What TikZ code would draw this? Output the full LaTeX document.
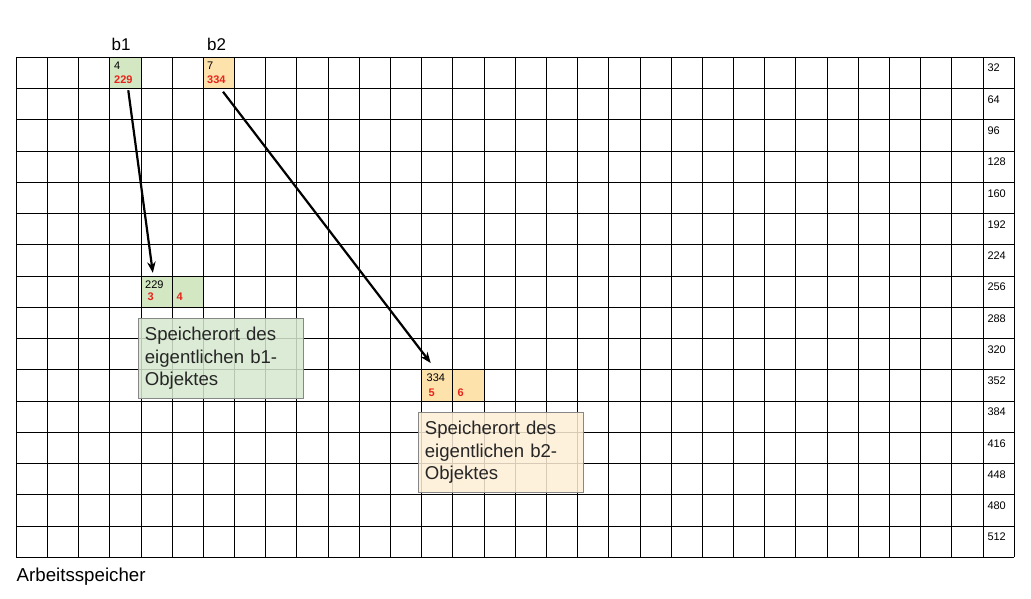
\documentclass[tikz,border=0pt]{standalone}
\usepackage{fontspec}
\setmainfont{Liberation Sans}
\usetikzlibrary{arrows.meta}
\definecolor{cellgreen}{RGB}{210,231,194}
\definecolor{cellorange}{RGB}{254,226,172}
\definecolor{boxgreen}{RGB}{214,232,206}
\definecolor{boxorange}{RGB}{253,238,214}
\definecolor{numred}{RGB}{232,36,28}
\definecolor{boxborder}{RGB}{135,135,135}
\tikzset{
  gridline/.style={line width=1pt, black},
  cellg/.style={fill=cellgreen, draw=none, minimum width=31.19pt, minimum height=31.25pt, inner sep=0pt},
  cello/.style={fill=cellorange, draw=none, minimum width=31.19pt, minimum height=31.25pt, inner sep=0pt},
  small/.style={anchor=base west, inner sep=0pt, font=\fontsize{11}{12}\selectfont},
  smallred/.style={anchor=base west, inner sep=0pt, text=numred, font=\fontsize{11}{12}\selectfont\bfseries},
  addr/.style={anchor=base west, inner sep=0pt, font=\fontsize{11}{12}\selectfont},
  title/.style={anchor=base west, inner sep=0pt, font=\fontsize{17}{19}\selectfont},
  notebox/.style={draw=boxborder, line width=1.1pt, fill opacity=0.85, text opacity=1, anchor=north west,
    inner xsep=6pt, inner ysep=0pt, minimum height=79.4pt, text width=153pt, align=left,
    font=\fontsize{18.6}{22.5}\selectfont, text=black!85},
  ptr/.style={line width=2.2pt, -{Stealth[length=11pt,width=8.5pt]}},
}
\begin{document}
\begin{tikzpicture}[x=1pt,y=-1pt]
\useasboundingbox (0,0) rectangle (1031,599);
% coloured cells
\node[cellg] (b1ptr) at (125.46,72.93) {};
\node[cello] (b2ptr) at (219.02,72.93) {};
\node[cellg] (b1objA) at (156.64,291.68) {};
\node[cellg] (b1objB) at (187.83,291.68) {};
\node[cello] (b2objA) at (437.33,385.43) {};
\node[cello] (b2objB) at (468.52,385.43) {};
% grid
\foreach \i in {0,...,32} {
  \draw[gridline] ({16.3+31.1875*\i},57.3) -- ({16.3+31.1875*\i},557.3);
}
\foreach \j in {0,...,16} {
  \draw[gridline] (16.3,{57.3+31.25*\j}) -- (1014.3,{57.3+31.25*\j});
}
% address labels
\foreach \a [count=\j from 0] in {32,64,96,128,160,192,224,256,288,320,352,384,416,448,480,512} {
  \node[addr] (addr\j) at (987.3,{57.3+31.25*\j+14.7}) {\a};
}
% cell contents
\node[small] (b1v) at (114,69.7) {4};
\node[smallred] (b1a) at (114,83.2) {229};
\node[small] (b2v) at (207,69.7) {7};
\node[smallred] (b2a) at (207,83.2) {334};
\node[small] (b1oa) at (145,288.5) {229};
\node[smallred] (b1ob) at (147.5,300.8) {3};
\node[smallred] (b1oc) at (176.5,300.8) {4};
\node[small] (b2oa) at (426.5,381.8) {334};
\node[smallred] (b2ob) at (428.3,396.2) {5};
\node[smallred] (b2oc) at (457.3,396.2) {6};
% titles
\node[title] (t1) at (111.5,50.7) {b1};
\node[title] (t2) at (207,50.7) {b2};
\node[anchor=base west, inner sep=0pt, font=\fontsize{18.7}{21}\selectfont] (mem) at (16.5,581.7) {Arbeitsspeicher};
% pointers
\draw[ptr] ([xshift=2.8pt,yshift=-1.5pt]b1ptr.south) -- ([xshift=-3.8pt,yshift=3pt]b1objA.north);
\draw[ptr] ([xshift=4pt,yshift=-3pt]b2ptr.south) -- ([xshift=-6.6pt,yshift=6.5pt]b2objA.north);
% notes
\node[notebox, fill=boxgreen] (note1) at (138.3,318.3) {Speicherort des\\eigentlichen b1-\\Objektes};
\node[notebox, fill=boxorange] (note2) at (418.3,412.3) {Speicherort des\\eigentlichen b2-\\Objektes};
\end{tikzpicture}
\end{document}
